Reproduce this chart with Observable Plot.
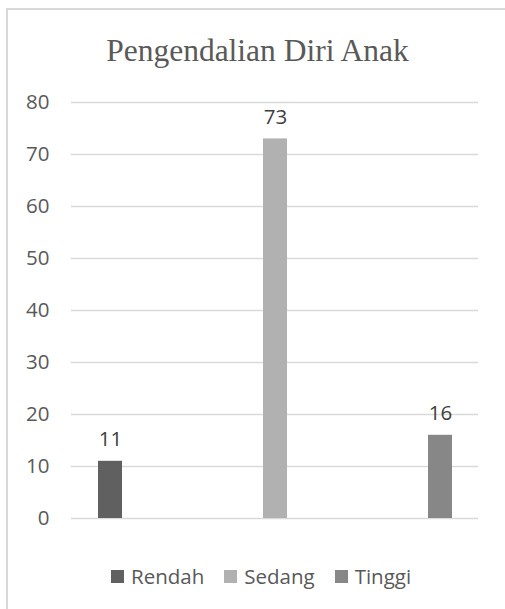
<!DOCTYPE html>
<html>
<head>
<meta charset="utf-8">
<script src="https://cdn.jsdelivr.net/npm/d3@7"></script>
<script src="https://cdn.jsdelivr.net/npm/@observablehq/plot@0.6"></script>
<style>
  html, body { margin: 0; padding: 0; background: #fff; }
  #wrap { position: relative; width: 505px; height: 609px; overflow: hidden; background: #fff; }
  #frame { position: absolute; left: 6px; top: 8px; right: -4px; bottom: -4px;
           border-left: 2px solid #d9d9d9; border-top: 2px solid #d9d9d9; pointer-events: none; }
  #title { height: 72px; box-sizing: border-box; padding-top: 33px; text-align: center;
           font-family: "Liberation Serif", "Times New Roman", serif; font-size: 31.5px;
           color: #595959; line-height: 36px; padding-left: 10px; }
  #legend { display: flex; align-items: center; padding-left: 111px; margin-top: 20px;
            font-family: "Open Sans", sans-serif; font-size: 20.5px; color: #595959; }
  .item { display: flex; align-items: center; margin-right: 20px; }
  .sw { width: 13px; height: 13px; margin-right: 7px; }
  #chart svg text { font-size: 20.5px; }
</style>
</head>
<body>
<div id="wrap">
  <div id="title">Pengendalian Diri Anak</div>
  <div id="chart"></div>
  <div id="legend"></div>
  <div id="frame"></div>
</div>
<script>
const categories = ["Rendah", "Sedang", "Tinggi"];
const values = [11, 73, 16];
const colors = ["#606060", "#b1b1b1", "#878787"];
const yTicks = [0, 10, 20, 30, 40, 50, 60, 70, 80];

const data = categories.map((c, i) => ({category: c, value: values[i]}));

const chart = Plot.plot({
  width: 505,
  height: 470,
  marginTop: 30,
  marginBottom: 24,
  marginLeft: 71,
  marginRight: 27,
  style: {fontFamily: "'Open Sans', sans-serif", fontSize: "20.5px", color: "#595959", background: "transparent"},
  x: {domain: categories, paddingInner: 0.8554, paddingOuter: 0.1566, axis: null},
  y: {domain: [0, 80], ticks: yTicks, tickSize: 0, tickPadding: 22, label: null, tickFormat: d => String(d)},
  color: {domain: categories, range: colors},
  marks: [
    Plot.gridY(yTicks, {stroke: "#d9d9d9", strokeOpacity: 1, strokeWidth: 1.5}),
    Plot.barY(data, {x: "category", y: "value", fill: "category"}),
    Plot.text(data, {x: "category", y: "value", text: d => String(d.value), lineAnchor: "bottom", dy: -15, fill: "#404040", fontSize: 20.5})
  ]
});
document.getElementById("chart").appendChild(chart);

const legend = document.getElementById("legend");
categories.forEach((c, i) => {
  const item = document.createElement("div");
  item.className = "item";
  const sw = document.createElement("div");
  sw.className = "sw";
  sw.style.background = colors[i];
  const t = document.createElement("span");
  t.textContent = c;
  item.appendChild(sw);
  item.appendChild(t);
  legend.appendChild(item);
});
</script>
</body>
</html>
